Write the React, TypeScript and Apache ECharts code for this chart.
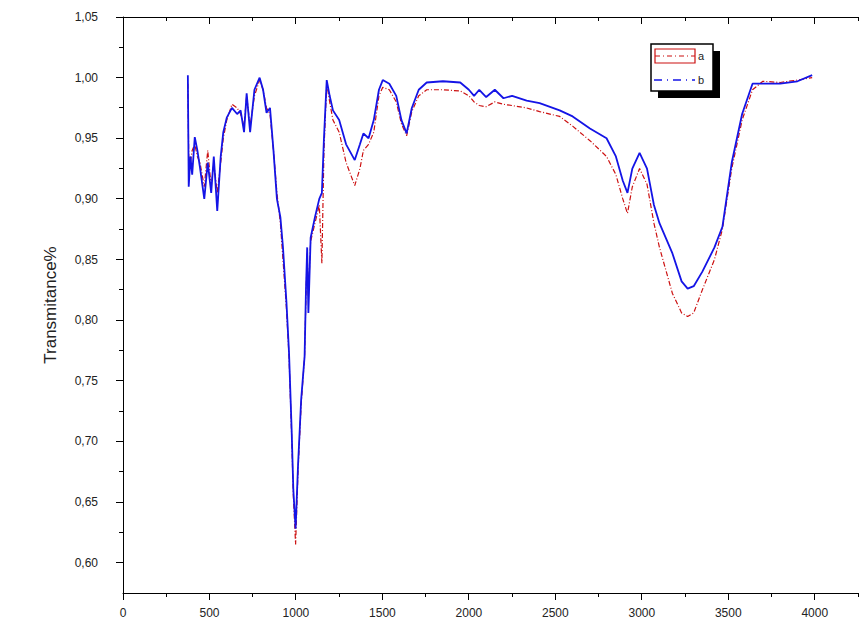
import React, { useEffect, useRef } from "react";
import * as echarts from "echarts";

const wavenumbers = [
  375, 380, 390, 400, 415, 430, 445, 470, 490, 510, 525, 545, 565, 580, 600, 630, 660, 680, 700, 715,
  735, 760, 790, 810, 830, 850, 870, 890, 910, 925, 945, 960, 975, 985, 998, 1012, 1030, 1050, 1058, 1065,
  1072, 1085, 1110, 1135, 1150, 1162, 1178, 1195, 1214, 1250, 1290, 1340, 1370, 1390, 1420, 1450, 1480, 1502, 1540, 1580,
  1610, 1640, 1670, 1710, 1756, 1850, 1950, 2000, 2030, 2060, 2100, 2150, 2200, 2250, 2334, 2409, 2525, 2600, 2700, 2796,
  2850, 2890, 2917, 2945, 2987, 3030, 3070, 3102, 3177, 3230, 3265, 3300, 3350, 3420, 3466, 3520, 3580, 3640, 3700, 3800,
  3900, 3985,
];

const seriesB = [
  1.002, 0.91, 0.935, 0.92, 0.951, 0.94, 0.926, 0.9, 0.93, 0.905, 0.935, 0.89, 0.935, 0.955, 0.967, 0.975, 0.97, 0.973, 0.955, 0.987,
  0.955, 0.99, 1.0, 0.99, 0.971, 0.975, 0.94, 0.9, 0.885, 0.86, 0.815, 0.773, 0.71, 0.66, 0.628, 0.68, 0.734, 0.77, 0.825, 0.86,
  0.806, 0.868, 0.885, 0.9, 0.905, 0.95, 0.998, 0.985, 0.973, 0.965, 0.945, 0.932, 0.945, 0.954, 0.95, 0.965, 0.99, 0.998, 0.995, 0.985,
  0.965, 0.954, 0.975, 0.99, 0.996, 0.997, 0.996, 0.99, 0.985, 0.99, 0.984, 0.99, 0.983, 0.985, 0.981, 0.979, 0.973, 0.968, 0.958, 0.95,
  0.935, 0.915, 0.905, 0.925, 0.938, 0.925, 0.895, 0.88, 0.855, 0.832, 0.826, 0.828, 0.84, 0.86, 0.877, 0.93, 0.97, 0.995, 0.995, 0.995,
  0.997, 1.002,
];

const seriesA = [
  0.995, 0.935, 0.93, 0.94, 0.945, 0.935, 0.93, 0.91, 0.94, 0.91, 0.93, 0.905, 0.93, 0.95, 0.965, 0.978, 0.975, 0.97, 0.96, 0.985,
  0.96, 0.985, 0.998, 0.99, 0.975, 0.97, 0.94, 0.905, 0.88, 0.85, 0.81, 0.77, 0.705, 0.655, 0.615, 0.675, 0.73, 0.77, 0.82, 0.855,
  0.82, 0.865, 0.88, 0.895, 0.847, 0.94, 0.995, 0.98, 0.965, 0.955, 0.93, 0.911, 0.925, 0.94, 0.945, 0.955, 0.985, 0.992, 0.99, 0.98,
  0.962, 0.952, 0.972, 0.985, 0.99, 0.99, 0.989, 0.985, 0.98, 0.977, 0.976, 0.98, 0.978, 0.977, 0.975, 0.972, 0.968, 0.96, 0.948, 0.935,
  0.92, 0.9, 0.888, 0.91, 0.925, 0.912, 0.88, 0.86, 0.822, 0.806, 0.803, 0.806, 0.825, 0.85, 0.875, 0.925, 0.965, 0.99, 0.997, 0.996,
  0.998, 1.0,
];

// Axis tick positions (major ticks carry labels, minor ticks sit halfway between)
const xMajorTicks = [0, 500, 1000, 1500, 2000, 2500, 3000, 3500, 4000];
const xMinorTicks = [250, 750, 1250, 1750, 2250, 2750, 3250, 3750, 4250];
const yMajorTicks = [0.6, 0.65, 0.7, 0.75, 0.8, 0.85, 0.9, 0.95, 1.0, 1.05];
const yMinorTicks = [0.625, 0.675, 0.725, 0.775, 0.825, 0.875, 0.925, 0.975, 1.025];

const seriesNames = ["a", "b"];
const yAxisTitle = "Transmitance%";

const X_MIN = 0;
const X_MAX = 4250;
const Y_MIN = 0.575;
const Y_MAX = 1.05;

const FONT = "Arial, 'Liberation Sans', sans-serif";
const MAJOR_LEN = 7;
const MINOR_LEN = 4;

function axisLine() {
  return { show: true, lineStyle: { color: "#000", width: 1 } };
}

export default function App() {
  const ref = useRef<HTMLDivElement>(null);

  useEffect(() => {
    if (!ref.current) return;
    const chart = echarts.init(ref.current, null, { renderer: "svg" });
    const dataA = wavenumbers.map((x, i) => [x, seriesA[i]]);
    const dataB = wavenumbers.map((x, i) => [x, seriesB[i]]);

    const xTickData = [
      ...xMajorTicks.map((v) => [v, Y_MIN, MAJOR_LEN]),
      ...xMinorTicks.map((v) => [v, Y_MIN, MINOR_LEN]),
    ];
    const yTickData = [
      ...yMajorTicks.map((v) => [X_MIN, v, MAJOR_LEN]),
      ...yMinorTicks.map((v) => [X_MIN, v, MINOR_LEN]),
    ];

    const crisp = (n: number) => Math.round(n - 0.5) + 0.5;

    chart.setOption({
      animation: false,
      backgroundColor: "#fff",
      grid: { left: 123, right: 6, top: 17, bottom: 43 },
      xAxis: [
        {
          type: "value",
          min: X_MIN,
          max: X_MAX,
          interval: 500,
          axisLine: axisLine(),
          axisTick: { show: false },
          minorTick: { show: false },
          splitLine: { show: false },
          axisLabel: {
            color: "#222",
            fontFamily: FONT,
            fontSize: 12,
            margin: 14,
            formatter: (v: number) => (v > 4000 ? "" : String(v)),
          },
        },
        {
          type: "value",
          position: "top",
          min: X_MIN,
          max: X_MAX,
          interval: 500,
          axisLine: axisLine(),
          axisTick: { show: false },
          minorTick: { show: false },
          splitLine: { show: false },
          axisLabel: { show: false },
        },
      ],
      yAxis: {
        type: "value",
        min: Y_MIN,
        max: Y_MAX,
        splitNumber: 10,
        minInterval: 0.05,
        maxInterval: 0.05,
        axisLine: axisLine(),
        axisTick: { show: false },
        minorTick: { show: false },
        splitLine: { show: false },
        axisLabel: {
          color: "#222",
          fontFamily: FONT,
          fontSize: 12,
          margin: 25,
          formatter: (v: number) => {
            const r = Math.round(v * 1000);
            if (r % 50 !== 0) return "";
            return v.toFixed(2).replace(".", ",");
          },
        },
        name: yAxisTitle,
        nameLocation: "middle",
        nameGap: 64,
        nameRotate: 90,
        nameTextStyle: { color: "#222", fontFamily: FONT, fontSize: 17 },
      },
      series: [
        {
          name: seriesNames[0],
          type: "line",
          data: dataA,
          symbol: "none",
          lineStyle: { color: "#cc1010", width: 1.2, type: [5, 2, 1, 2] },
        },
        {
          name: seriesNames[1],
          type: "line",
          data: dataB,
          symbol: "none",
          lineStyle: { color: "#1414e6", width: 1.8 },
        },
        {
          // bottom (outward) and top (inward) x-axis ticks
          type: "custom",
          coordinateSystem: "cartesian2d",
          xAxisIndex: 0,
          yAxisIndex: 0,
          clip: false,
          silent: true,
          z: 5,
          data: xTickData,
          renderItem: (_params: any, api: any) => {
            const v = api.value(0);
            const len = api.value(2);
            const pb = api.coord([v, Y_MIN]);
            const pt = api.coord([v, Y_MAX]);
            const x = crisp(pb[0]);
            return {
              type: "group",
              children: [
                { type: "line", shape: { x1: x, y1: pb[1], x2: x, y2: pb[1] + len }, style: { stroke: "#000", lineWidth: 1 } },
                { type: "line", shape: { x1: x, y1: pt[1], x2: x, y2: pt[1] + len }, style: { stroke: "#000", lineWidth: 1 } },
              ],
            };
          },
        },
        {
          // left y-axis ticks (outward)
          type: "custom",
          coordinateSystem: "cartesian2d",
          xAxisIndex: 0,
          yAxisIndex: 0,
          clip: false,
          silent: true,
          z: 5,
          data: yTickData,
          renderItem: (_params: any, api: any) => {
            const v = api.value(1);
            const len = api.value(2);
            const p = api.coord([X_MIN, v]);
            const y = crisp(p[1]);
            return {
              type: "line",
              shape: { x1: p[0] - len, y1: y, x2: p[0], y2: y },
              style: { stroke: "#000", lineWidth: 1 },
            };
          },
        },
      ],
      graphic: [
        { type: "rect", shape: { x: 658, y: 51, width: 62, height: 47 }, style: { fill: "#000" }, z: 10 },
        {
          type: "rect",
          shape: { x: 651, y: 44, width: 62, height: 47 },
          style: { fill: "#fff", stroke: "#000", lineWidth: 1.5 },
          z: 11,
        },
        {
          type: "rect",
          shape: { x: 655, y: 49, width: 40, height: 14 },
          style: { fill: "none", stroke: "#cc1010", lineWidth: 1.2 },
          z: 12,
        },
        {
          type: "line",
          shape: { x1: 655, y1: 56, x2: 695, y2: 56 },
          style: { stroke: "#cc1010", lineWidth: 1.2, lineDash: [5, 3, 1, 3] },
          z: 12,
        },
        {
          type: "line",
          shape: { x1: 654, y1: 80, x2: 695, y2: 80 },
          style: { stroke: "#1414e6", lineWidth: 1.4, lineDash: [8, 5, 1, 5] },
          z: 12,
        },
        {
          type: "text",
          x: 698,
          y: 56,
          style: { text: seriesNames[0], fill: "#222", font: `11px ${FONT}`, verticalAlign: "middle" },
          z: 12,
        },
        {
          type: "text",
          x: 698,
          y: 80,
          style: { text: seriesNames[1], fill: "#222", font: `11px ${FONT}`, verticalAlign: "middle" },
          z: 12,
        },
      ],
    });

    return () => chart.dispose();
  }, []);

  return (
    <div
      ref={ref}
      style={{ position: "fixed", left: 0, top: 0, width: 864, height: 636, background: "#fff" }}
    />
  );
}
